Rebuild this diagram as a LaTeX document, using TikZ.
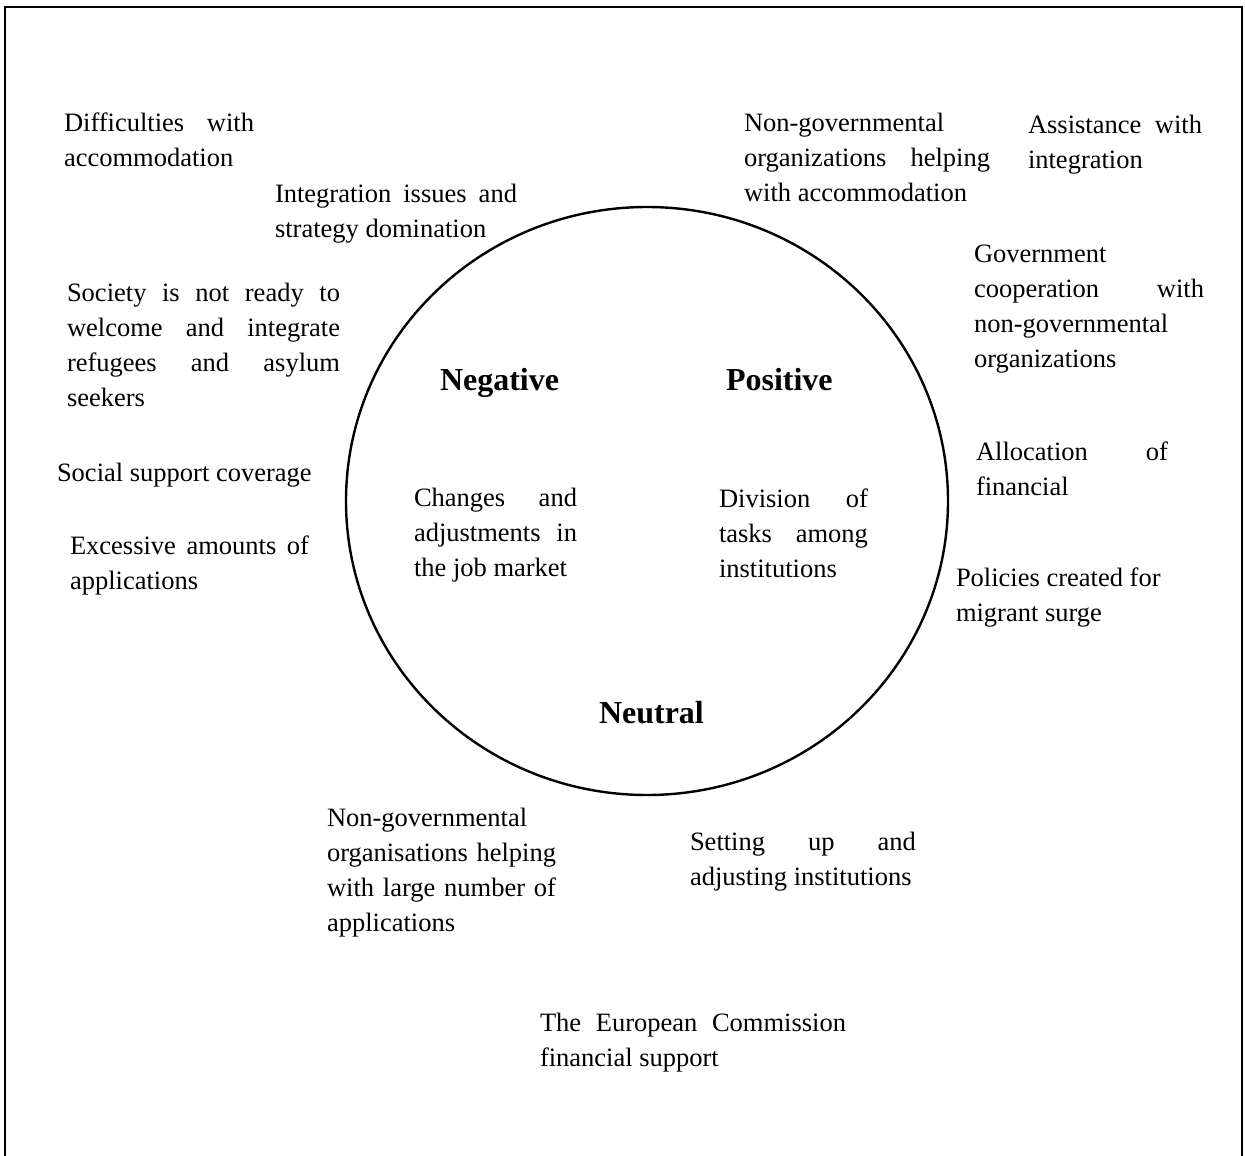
\documentclass[tikz,border=0pt]{standalone}
\usepackage{fontspec}
\setmainfont{Liberation Serif}
\usetikzlibrary{shapes.geometric}
\hbadness=10000
% a line stretched to a given width (justified), and a plain line
\newcommand\jline[2]{\hbox to #1pt{#2}}
\newcommand\pline[1]{\hbox{#1}}
\begin{document}
\begin{tikzpicture}[x=1pt,y=-1pt,
  txt/.style={anchor=base west,inner sep=0pt,outer sep=0pt,yshift=-2pt,
    font=\fontsize{26.5}{35.2}\selectfont},
  head/.style={anchor=base west,inner sep=0pt,outer sep=0pt,
    font=\fontsize{32}{38}\selectfont\bfseries},
  frame/.style={line width=2.2pt},
  ring/.style={draw,ellipse,line width=2.4pt,inner sep=0pt,
    minimum width=602pt,minimum height=588pt}]
\useasboundingbox (0,0) rectangle (1245,1156);

% open frame: top edge and both sides running off the bottom
\draw[frame] (5,1170) -- (5,7) -- (1242,7) -- (1242,1170);

% central ring
\node[ring] (ring) at (647,501) {};

% headings inside the ring
\node[head] (neg) at (440,390) {Negative};
\node[head] (pos) at (726,390) {Positive};
\node[head] (neu) at (599,723) {Neutral};

% statements inside the ring
\node[txt] (jobs) at (414,504) {\vtop{\jline{163}{Changes and}\jline{163}{adjustments in}\pline{the job market}}};
\node[txt] (tasks) at (719,505) {\vtop{\jline{149}{Division of}\jline{149}{tasks among}\pline{institutions}}};

% negative side
\node[txt] (accom) at (64,129) {\vtop{\jline{190}{Difficulties with}\pline{accommodation}}};
\node[txt] (integ) at (275,200) {\vtop{\jline{242}{Integration issues and}\pline{strategy domination}}};
\node[txt] (soc) at (67,299) {\vtop{\jline{273}{Society is not ready to}\jline{273}{welcome and integrate}\jline{273}{refugees and asylum}\pline{seekers}}};
\node[txt] (cover) at (57,479) {\vtop{\pline{Social support coverage}}};
\node[txt] (excess) at (70,552) {\vtop{\jline{239}{Excessive amounts of}\pline{applications}}};

% positive side
\node[txt] (ngoacc) at (744,129) {\vtop{\pline{Non-governmental}\jline{246}{organizations helping}\pline{with accommodation}}};
\node[txt] (assist) at (1028,131) {\vtop{\jline{174}{Assistance with}\pline{integration}}};
\node[txt] (gov) at (974,260) {\vtop{\pline{Government}\jline{230}{cooperation with}\pline{non-governmental}\pline{organizations}}};
\node[txt] (alloc) at (976,458) {\vtop{\jline{192}{Allocation of}\pline{financial}}};
\node[txt] (policy) at (956,584) {\vtop{\pline{Policies created for}\pline{migrant surge}}};

% neutral side
\node[txt] (ngoapp) at (327,824) {\vtop{\pline{Non-governmental}\jline{229}{organisations helping}\jline{229}{with large number of}\pline{applications}}};
\node[txt] (setup) at (690,848) {\vtop{\jline{226}{Setting up and}\pline{adjusting institutions}}};
\node[txt] (ec) at (540,1029) {\vtop{\jline{306}{The European Commission}\pline{financial support}}};
\end{tikzpicture}
\end{document}
